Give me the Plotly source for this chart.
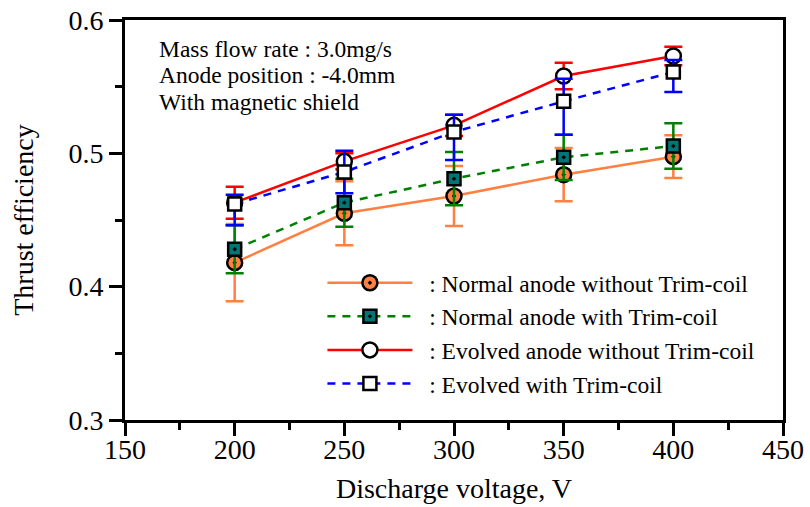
import plotly.graph_objects as go

voltage = [200, 250, 300, 350, 400]

normal_no_trim = [0.418, 0.455, 0.468, 0.484, 0.4975]
normal_no_trim_err = [0.029, 0.024, 0.0225, 0.020, 0.016]

normal_trim = [0.428, 0.463, 0.481, 0.497, 0.5055]
normal_trim_err = [0.018, 0.018, 0.020, 0.017, 0.017]

evolved_no_trim = [0.463, 0.494, 0.521, 0.558, 0.573]
evolved_no_trim_err = [0.012, 0.006, 0.008, 0.010, 0.007]

evolved_trim = [0.462, 0.486, 0.516, 0.539, 0.561]
evolved_trim_err_plus = [0.007, 0.016, 0.013, 0.017, 0.009]
evolved_trim_err_minus = [0.016, 0.016, 0.021, 0.025, 0.015]

PAD = "\u00a0\u00a0"
names = [PAD + ": Normal anode without Trim-coil",
         PAD + ": Normal anode with Trim-coil",
         PAD + ": Evolved anode without Trim-coil",
         PAD + ": Evolved with Trim-coil"]

FONT = "Liberation Serif"
fig = go.Figure()

fig.add_trace(go.Scatter(
    x=voltage, y=normal_no_trim, name=names[0], mode="lines+markers",
    line=dict(color="#FF8040", width=2.5),
    marker=dict(symbol="circle-dot", size=15, color="#FF8040",
                line=dict(color="black", width=2.5)),
    error_y=dict(type="data", array=normal_no_trim_err, color="#FF8040",
                 thickness=2.5, width=9)))

fig.add_trace(go.Scatter(
    x=voltage, y=normal_trim, name=names[1], mode="lines+markers",
    line=dict(color="#008000", width=2.5, dash="8px,7px"),
    marker=dict(symbol="square-dot", size=13, color="#007575",
                line=dict(color="black", width=2.5)),
    error_y=dict(type="data", array=normal_trim_err, color="#008000",
                 thickness=2.5, width=9)))

fig.add_trace(go.Scatter(
    x=voltage, y=evolved_no_trim, name=names[2], mode="lines+markers",
    line=dict(color="#FF0000", width=2.5),
    marker=dict(symbol="circle", size=15, color="white",
                line=dict(color="black", width=2.5)),
    error_y=dict(type="data", array=evolved_no_trim_err, color="#FF0000",
                 thickness=2.5, width=9)))

fig.add_trace(go.Scatter(
    x=voltage, y=evolved_trim, name=names[3], mode="lines+markers",
    line=dict(color="#0000FF", width=2.5, dash="8px,7px"),
    marker=dict(symbol="square", size=13, color="white",
                line=dict(color="black", width=2.5)),
    error_y=dict(type="data", symmetric=False, array=evolved_trim_err_plus,
                 arrayminus=evolved_trim_err_minus, color="#0000FF",
                 thickness=2.5, width=9)))

info_lines = ["Mass flow rate : 3.0mg/s", "Anode position : -4.0mm",
              "With magnetic shield"]
info_y = [0.9275, 0.8625, 0.795]
for txt, yy in zip(info_lines, info_y):
    fig.add_annotation(text=txt, xref="paper", yref="paper", x=0.0486, y=yy,
                       xanchor="left", yanchor="middle", showarrow=False,
                       font=dict(family=FONT, size=23.5, color="black"))

axis_common = dict(
    showgrid=False, zeroline=False, showline=True, linecolor="black",
    linewidth=3, mirror=True, ticks="outside", ticklen=13, tickwidth=2.5,
    tickcolor="black", tickfont=dict(family=FONT, size=28, color="black"),
    automargin=False,
)

fig.update_xaxes(range=[150, 450], dtick=50, tick0=150,
                 minor=dict(ticks="outside", ticklen=7, tickwidth=2.5,
                            dtick=25, tick0=150, tickcolor="black"),
                 title=dict(text="Discharge voltage, V", standoff=15,
                            font=dict(family=FONT, size=28, color="black")),
                 ticklabelstandoff=-11,
                 **axis_common)
fig.update_yaxes(range=[0.3, 0.6], dtick=0.1, tick0=0.3, tickformat=".1f",
                 minor=dict(ticks="outside", ticklen=7, tickwidth=2.5,
                            dtick=0.05, tick0=0.3, tickcolor="black"),
                 title=dict(text="Thrust efficiency", standoff=27,
                            font=dict(family=FONT, size=28, color="black")),
                 ticklabelstandoff=0,
                 **axis_common)

fig.update_layout(
    width=810, height=507,
    margin=dict(l=125, r=27, t=20, b=87),
    paper_bgcolor="white", plot_bgcolor="white",
    font=dict(family=FONT, color="black"),
    showlegend=True,
    legend=dict(x=0.30, y=0.3975, xanchor="left", yanchor="top",
                bgcolor="rgba(0,0,0,0)", borderwidth=0,
                font=dict(family=FONT, size=23.5, color="black"),
                itemwidth=85, tracegroupgap=0),
)

# remove the default 8px page margin so the figure sits at the window corner
fig.write_html("out.html",
               config={"displayModeBar": False},
               post_script="document.body.style.margin='0';")
